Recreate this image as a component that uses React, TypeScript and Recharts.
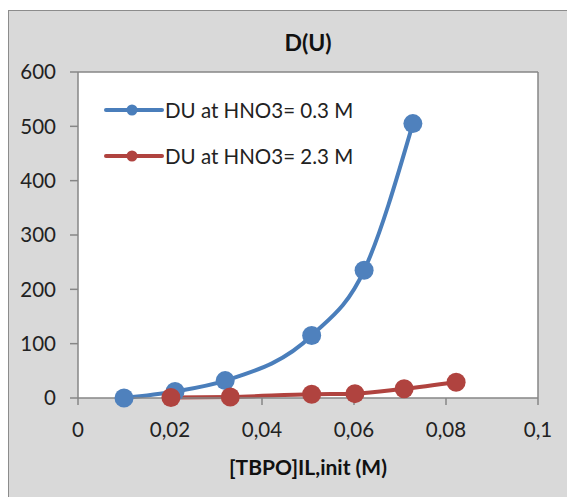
import { LineChart, Line, XAxis, YAxis, ReferenceArea, ReferenceLine } from "recharts"

const blueX = [0.01, 0.0211, 0.032, 0.0508, 0.0622, 0.0728]
const blueY = [0, 12, 32, 115, 235, 505]
const redX = [0.0202, 0.0331, 0.0508, 0.0602, 0.0709, 0.0822]
const redY = [1, 2, 7, 8, 17, 29]
const xTicks = [0, 0.02, 0.04, 0.06, 0.08, 0.1]
const yTicks = [0, 100, 200, 300, 400, 500, 600]
const seriesNames = ["DU at HNO3= 0.3 M", "DU at HNO3= 2.3 M"]

const blue = "#4a7ebb"
const red = "#b0433f"
const axisGray = "#868686"
const font = "Lato, 'Open Sans', sans-serif"

const blueData = blueX.map((x, i) => ({ x, y: blueY[i] }))
const redData = redX.map((x, i) => ({ x, y: redY[i] }))

function LegendBox() {
  const rows = [
    { name: seriesNames[0], color: blue },
    { name: seriesNames[1], color: red },
  ]
  return (
    <div style={{ position: "absolute", left: 95, top: 76, fontFamily: font, fontSize: 20.5, color: "#222" }}>
      {rows.map((r) => (
        <div key={r.name} style={{ display: "flex", alignItems: "center", height: 46 }}>
          <svg width={61} height={14}>
            <line x1={2} y1={7} x2={58} y2={7} stroke={r.color} strokeWidth={4} strokeLinecap="round" />
            <circle cx={28} cy={7} r={5.5} fill={r.color} />
          </svg>
          <span>{r.name}</span>
        </div>
      ))}
    </div>
  )
}

export default function App() {
  return (
    <div
      style={{
        position: "relative",
        width: 565,
        height: 486,
        marginTop: 2,
        background: "#d9d9d9",
        border: "1px solid #8c8c8c",
        fontFamily: font,
      }}
    >
      <div
        style={{
          position: "absolute",
          top: 17,
          left: 69,
          width: 460,
          textAlign: "center",
          fontWeight: 700,
          fontSize: 23,
          color: "#111",
        }}
      >
        D(U)
      </div>
      <div
        style={{
          position: "absolute",
          top: 443,
          left: 69,
          width: 460,
          textAlign: "center",
          fontWeight: 700,
          fontSize: 21,
          color: "#111",
        }}
      >
        [TBPO]IL,init (M)
      </div>
      <LineChart width={565} height={486} margin={{ top: 61, right: 36, left: 9, bottom: 0 }}>
        <XAxis
          type="number"
          dataKey="x"
          domain={[0, 0.1]}
          ticks={xTicks}
          height={99}
          tickSize={7}
          tickMargin={17}
          stroke={axisGray}
          strokeWidth={1.5}
          tick={{ fill: "#222", fontSize: 20.5, fontFamily: font }}
          tickFormatter={(v) => String(v).replace(".", ",")}
          allowDuplicatedCategory={false}
        />
        <YAxis
          type="number"
          dataKey="y"
          domain={[0, 600]}
          ticks={yTicks}
          width={60}
          tickSize={8}
          tickMargin={14}
          stroke={axisGray}
          strokeWidth={1.5}
          tick={{ fill: "#222", fontSize: 20.5, fontFamily: font }}
        />
        <ReferenceArea x1={0} x2={0.1} y1={0} y2={600} fill="#ffffff" fillOpacity={1} stroke="none" />
        <ReferenceLine y={600} stroke={axisGray} strokeWidth={1.5} />
        <ReferenceLine x={0.1} stroke={axisGray} strokeWidth={1.5} />
        <Line
          data={blueData}
          dataKey="y"
          name={seriesNames[0]}
          type="monotone"
          stroke={blue}
          strokeWidth={4}
          dot={{ r: 9.5, fill: "#4f81bd", stroke: "none" }}
          isAnimationActive={false}
        />
        <Line
          data={redData}
          dataKey="y"
          name={seriesNames[1]}
          type="monotone"
          stroke={red}
          strokeWidth={4}
          dot={{ r: 9.5, fill: red, stroke: "none" }}
          isAnimationActive={false}
        />
      </LineChart>
      <LegendBox />
    </div>
  )
}
